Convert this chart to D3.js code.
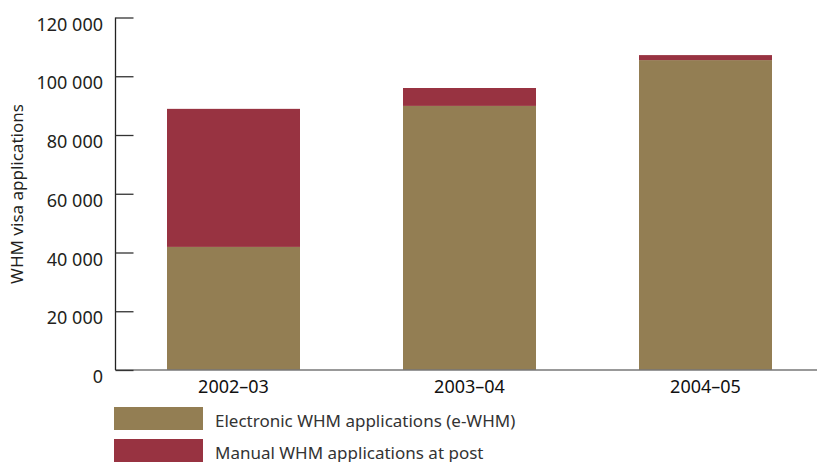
<!DOCTYPE html>
<html>
<head>
<meta charset="utf-8">
<script src="https://cdn.jsdelivr.net/npm/d3@7"></script>
<style>
  html, body { margin: 0; padding: 0; background: #fff; }
  svg { display: block; font-family: "Noto Sans", "Open Sans", sans-serif; }
</style>
</head>
<body>
<svg id="chart" width="817" height="462"></svg>
<script>
// Working Holiday Maker visa applications by year and lodgement channel
const years = ["2002–03", "2003–04", "2004–05"];
const electronic = [41900, 89900, 105500];
const manual = [47000, 6100, 1700];
const seriesNames = ["Electronic WHM applications (e-WHM)", "Manual WHM applications at post"];
const seriesColors = ["#937e53", "#983341"];
const yTicks = [0, 20000, 40000, 60000, 80000, 100000, 120000];

const svg = d3.select("#chart");
const plot = { left: 115.5, top: 17.5, bottom: 370, right: 817 };

const y = d3.scaleLinear().domain([0, 120000]).range([plot.bottom, plot.top]);
// bars 133px wide, 236px apart
const x = d3.scaleBand().domain(years).range([167, 772]).paddingInner(103 / 236).paddingOuter(0);

const stackData = years.map((yr, i) => ({ year: yr, electronic: electronic[i], manual: manual[i] }));
const stacked = d3.stack().keys(["electronic", "manual"])(stackData);

const fmt = v => d3.format(",")(v).replace(/,/g, " ");

// bars
svg.append("g").selectAll("g").data(stacked).join("g")
  .attr("fill", (d, i) => seriesColors[i])
  .selectAll("rect").data(d => d).join("rect")
  .attr("x", d => x(d.data.year))
  .attr("width", x.bandwidth())
  .attr("y", d => y(d[1]))
  .attr("height", d => y(d[0]) - y(d[1]));

// baseline
svg.append("line")
  .attr("x1", plot.left).attr("x2", plot.right)
  .attr("y1", y(0)).attr("y2", y(0))
  .attr("stroke", "#777").attr("stroke-width", 1.5);

// y axis with inward ticks
const yAxis = d3.axisRight(y).tickValues(yTicks).tickSize(18).tickFormat("");
const ga = svg.append("g").attr("transform", `translate(${plot.left},0)`).call(yAxis);
ga.select(".domain").attr("stroke", "#222").attr("stroke-width", 1.3).attr("d", `M0,${plot.top}V${plot.bottom}`);
ga.selectAll(".tick line").attr("stroke", "#333").attr("stroke-width", 1.3);

// y tick labels sit just below their tick marks
svg.append("g").selectAll("text").data(yTicks).join("text")
  .attr("x", 103).attr("y", d => y(d) + 13)
  .attr("text-anchor", "end")
  .attr("font-size", 18).attr("fill", "#231f20")
  .text(fmt);

// y axis title
svg.append("text")
  .attr("transform", `translate(23,194) rotate(-90)`)
  .attr("text-anchor", "middle")
  .attr("font-size", 17).attr("fill", "#231f20")
  .text("WHM visa applications");

// category labels
svg.append("g").selectAll("text").data(years).join("text")
  .attr("x", d => x(d) + x.bandwidth() / 2)
  .attr("y", 393)
  .attr("text-anchor", "middle")
  .attr("font-size", 18).attr("fill", "#111")
  .text(d => d);

// legend
const legend = svg.append("g").selectAll("g").data(seriesNames).join("g")
  .attr("transform", (d, i) => `translate(114,${407 + i * 32})`);
legend.append("rect").attr("width", 89).attr("height", 23).attr("fill", (d, i) => seriesColors[i]);
legend.append("text").attr("x", 101).attr("y", 19.5)
  .attr("font-size", 17).attr("fill", "#333").text(d => d);
</script>
</body>
</html>
